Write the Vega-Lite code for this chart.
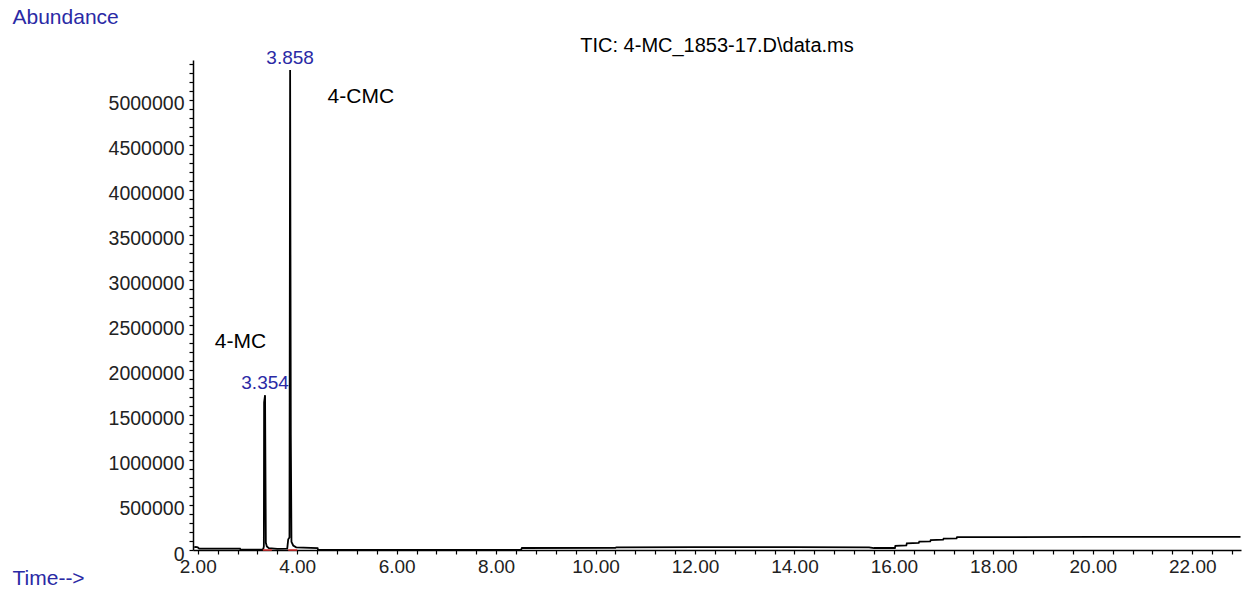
{
  "$schema": "https://vega.github.io/schema/vega-lite/v6.json",
  "autosize": "none",
  "width": 1048,
  "height": 490,
  "padding": {"left": 193, "top": 60, "right": 8, "bottom": 42},
  "background": "white",
  "config": {"view": {"stroke": null}, "axis": {"labelOverlap": false, "labelSeparation": -1000}},
  "title": {
    "text": "TIC: 4-MC_1853-17.D\\data.ms",
    "anchor": "middle",
    "frame": "group",
    "font": "Liberation Sans",
    "fontSize": 20,
    "fontWeight": "normal",
    "color": "black",
    "offset": -50
  },
  "datasets": {
    "trace": [
      {"time": 1.93, "abundance": 30000},
      {"time": 1.96, "abundance": 35000},
      {"time": 2.0, "abundance": 30000},
      {"time": 2.03, "abundance": 15000},
      {"time": 2.85, "abundance": 15000},
      {"time": 2.86, "abundance": 5000},
      {"time": 3.3, "abundance": 5000},
      {"time": 3.32, "abundance": 15000},
      {"time": 3.33, "abundance": 40000},
      {"time": 3.335, "abundance": 1640000},
      {"time": 3.354, "abundance": 1720000},
      {"time": 3.37, "abundance": 80000},
      {"time": 3.39, "abundance": 40000},
      {"time": 3.43, "abundance": 20000},
      {"time": 3.6, "abundance": 12000},
      {"time": 3.8, "abundance": 15000},
      {"time": 3.82, "abundance": 120000},
      {"time": 3.845, "abundance": 140000},
      {"time": 3.858, "abundance": 5333000},
      {"time": 3.872, "abundance": 1280000},
      {"time": 3.885, "abundance": 90000},
      {"time": 3.92, "abundance": 50000},
      {"time": 3.98, "abundance": 30000},
      {"time": 4.41, "abundance": 20000},
      {"time": 4.42, "abundance": 2000},
      {"time": 8.5, "abundance": 2000},
      {"time": 8.52, "abundance": 22000},
      {"time": 10.4, "abundance": 24000},
      {"time": 10.42, "abundance": 30000},
      {"time": 12.0, "abundance": 31000},
      {"time": 14.0, "abundance": 31000},
      {"time": 15.5, "abundance": 30000},
      {"time": 15.6, "abundance": 22000},
      {"time": 16.02, "abundance": 22000},
      {"time": 16.03, "abundance": 45000},
      {"time": 16.25, "abundance": 50000},
      {"time": 16.26, "abundance": 75000},
      {"time": 16.5, "abundance": 80000},
      {"time": 16.51, "abundance": 92000},
      {"time": 16.73, "abundance": 95000},
      {"time": 16.74, "abundance": 110000},
      {"time": 16.99, "abundance": 115000},
      {"time": 17.0, "abundance": 126000},
      {"time": 17.26, "abundance": 130000},
      {"time": 17.27, "abundance": 143000},
      {"time": 20.0, "abundance": 145000},
      {"time": 22.97, "abundance": 145000}
    ],
    "bases": [
      {"start": 3.31, "end": 3.49, "level": 0},
      {"start": 3.82, "end": 4.0, "level": 0}
    ],
    "peaks": [
      {"time": 3.858, "abundance": 5333000, "label": "3.858"},
      {"time": 3.354, "abundance": 1720000, "label": "3.354"}
    ],
    "notes": [
      {"time": 5.28, "abundance": 5033000, "label": "4-CMC"},
      {"time": 2.86, "abundance": 2311000, "label": "4-MC"}
    ]
  },
  "layer": [
    {
      "data": {"name": "trace"},
      "mark": {"type": "line", "color": "black", "strokeWidth": 1.8, "clip": true},
      "encoding": {
        "x": {
          "field": "time",
          "type": "quantitative",
          "scale": {"domain": [1.905, 22.98], "nice": false, "zero": false},
          "axis": {
            "values": [2, 2.4, 2.8, 3.2, 3.6, 4, 4.4, 4.8, 5.2, 5.6, 6, 6.4, 6.8, 7.2, 7.6, 8, 8.4, 8.8, 9.2, 9.6, 10, 10.4, 10.8, 11.2, 11.6, 12, 12.4, 12.8, 13.2, 13.6, 14, 14.4, 14.8, 15.2, 15.6, 16, 16.4, 16.8, 17.2, 17.6, 18, 18.4, 18.8, 19.2, 19.6, 20, 20.4, 20.8, 21.2, 21.6, 22, 22.4, 22.8],
            "tickCount": 500,
            "labelExpr": "abs(datum.value / 2 - round(datum.value / 2)) < 0.001 ? format(datum.value, '.2f') : ''",
            "grid": false,
            "tickSize": 4,
            "tickWidth": 1.2,
            "tickColor": "black",
            "domainColor": "black",
            "domainWidth": 1.5,
            "labelFont": "Liberation Sans",
            "labelFontSize": 19,
            "labelColor": "#222222",
            "labelPadding": 3,
            "labelOverlap": false,
            "labelSeparation": -1000,
            "labelFlush": false,
            "labelBound": false,
            "title": "Time-->",
            "titleX": -181,
            "titleY": 28,
            "titleAlign": "left",
            "titleBaseline": "middle",
            "titleColor": "#2a2aa5",
            "titleFont": "Liberation Sans",
            "titleFontSize": 21,
            "titleFontWeight": "normal"
          }
        },
        "y": {
          "field": "abundance",
          "type": "quantitative",
          "scale": {"domain": [0, 5444000], "nice": false},
          "axis": {
            "values": [0, 100000, 200000, 300000, 400000, 500000, 600000, 700000, 800000, 900000, 1000000, 1100000, 1200000, 1300000, 1400000, 1500000, 1600000, 1700000, 1800000, 1900000, 2000000, 2100000, 2200000, 2300000, 2400000, 2500000, 2600000, 2700000, 2800000, 2900000, 3000000, 3100000, 3200000, 3300000, 3400000, 3500000, 3600000, 3700000, 3800000, 3900000, 4000000, 4100000, 4200000, 4300000, 4400000, 4500000, 4600000, 4700000, 4800000, 4900000, 5000000, 5100000, 5200000, 5300000, 5400000],
            "tickCount": 500,
            "format": "d",
            "labelExpr": "datum.value % 500000 === 0 ? datum.label : ''",
            "grid": false,
            "tickSize": 4,
            "tickWidth": 1.2,
            "tickColor": "black",
            "domainColor": "black",
            "domainWidth": 1.5,
            "labelFont": "Liberation Sans",
            "labelFontSize": 19.5,
            "labelColor": "#222222",
            "labelPadding": 5,
            "labelOffset": 4,
            "labelOverlap": false,
            "labelSeparation": -1000,
            "labelFlush": false,
            "labelBound": false,
            "title": "Abundance",
            "titleAngle": 0,
            "titleX": -181,
            "titleY": -43,
            "titleAlign": "left",
            "titleBaseline": "middle",
            "titleColor": "#2a2aa5",
            "titleFont": "Liberation Sans",
            "titleFontSize": 21,
            "titleFontWeight": "normal"
          }
        }
      }
    },
    {
      "data": {"name": "bases"},
      "mark": {"type": "rule", "color": "#e03030", "strokeWidth": 1.5},
      "encoding": {
        "x": {"field": "start", "type": "quantitative"},
        "x2": {"field": "end"},
        "y": {"field": "level", "type": "quantitative"}
      }
    },
    {
      "data": {"name": "peaks"},
      "mark": {"type": "text", "color": "#2a2aa5", "font": "Liberation Sans", "fontSize": 19, "align": "center", "baseline": "alphabetic", "dy": -6},
      "encoding": {
        "x": {"field": "time", "type": "quantitative"},
        "y": {"field": "abundance", "type": "quantitative"},
        "text": {"field": "label"}
      }
    },
    {
      "data": {"name": "notes"},
      "mark": {"type": "text", "color": "black", "font": "Liberation Sans", "fontSize": 21, "align": "center", "baseline": "middle"},
      "encoding": {
        "x": {"field": "time", "type": "quantitative"},
        "y": {"field": "abundance", "type": "quantitative"},
        "text": {"field": "label"}
      }
    }
  ]
}
